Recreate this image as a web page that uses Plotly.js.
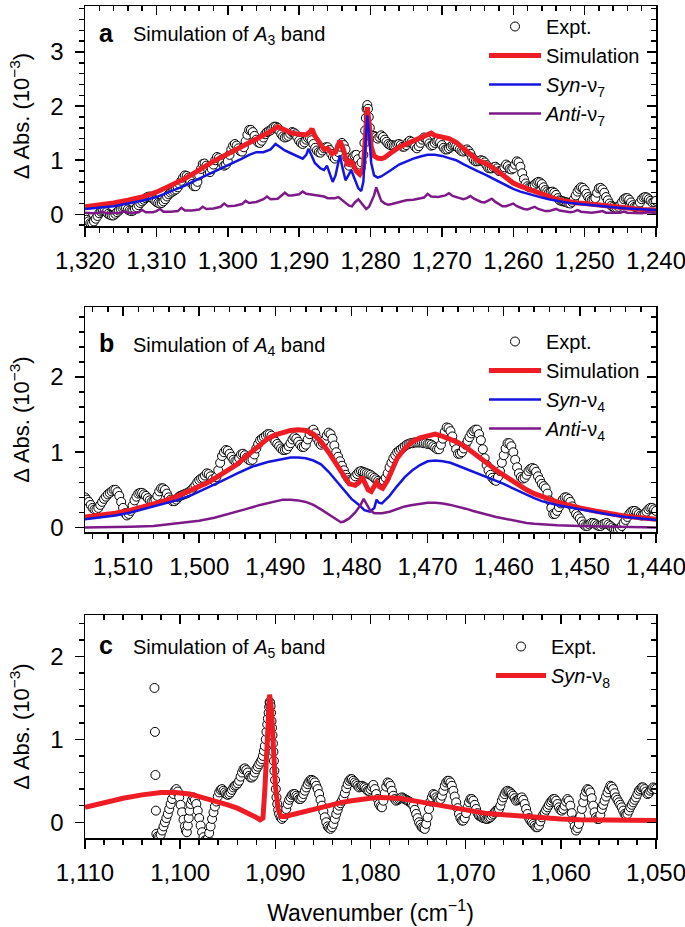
<!DOCTYPE html>
<html>
<head>
<meta charset="utf-8">
<script src="https://cdn.plot.ly/plotly-3.0.1.min.js"></script>
<style>
  body { margin: 0; background: #fff; }
  #plot { width: 685px; height: 927px; }
</style>
</head>
<body>
<div id="plot"></div>
<script>
// ---- panel a : A3 band  [wavenumber, dAbs (1e-3)] ----
const exptA = [
  [1320,-0.05],[1319.75,-0.10],[1319.5,-0.13],[1319.25,-0.16],[1319,-0.16],[1318.75,-0.13],[1318.5,-0.08],[1318.25,-0.03],
  [1318,0.02],[1317.75,0.05],[1317.5,0.06],[1317.25,0.06],[1317,0.04],[1316.75,0.01],[1316.5,-0.01],[1316.25,-0.02],
  [1316,-0.02],[1315.75,0.01],[1315.5,0.04],[1315.25,0.07],[1315,0.10],[1314.75,0.12],[1314.5,0.13],[1314.25,0.12],
  [1314,0.09],[1313.75,0.07],[1313.5,0.06],[1313.25,0.07],[1313,0.10],[1312.75,0.13],[1312.5,0.17],[1312.25,0.21],
  [1312,0.24],[1311.75,0.27],[1311.5,0.30],[1311.25,0.32],[1311,0.33],[1310.75,0.32],[1310.5,0.29],[1310.25,0.26],
  [1310,0.23],[1309.75,0.21],[1309.5,0.20],[1309.25,0.21],[1309,0.24],[1308.75,0.28],[1308.5,0.33],[1308.25,0.37],
  [1308,0.40],[1307.75,0.42],[1307.5,0.44],[1307.25,0.46],[1307,0.50],[1306.75,0.56],[1306.5,0.62],[1306.25,0.68],
  [1306,0.72],[1305.75,0.71],[1305.5,0.68],[1305.25,0.62],[1305,0.56],[1304.75,0.52],[1304.5,0.52],[1304.25,0.60],
  [1304,0.72],[1303.75,0.84],[1303.5,0.93],[1303.25,0.94],[1303,0.90],[1302.75,0.83],[1302.5,0.78],[1302.25,0.84],
  [1302,0.92],[1301.75,1.00],[1301.5,1.06],[1301.25,1.04],[1301,1.00],[1300.75,0.94],[1300.5,0.90],[1300.25,0.92],
  [1300,0.98],[1299.75,1.10],[1299.5,1.20],[1299.25,1.27],[1299,1.30],[1298.75,1.27],[1298.5,1.22],[1298.25,1.17],
  [1298,1.16],[1297.75,1.24],[1297.5,1.35],[1297.25,1.47],[1297,1.56],[1296.75,1.56],[1296.5,1.52],[1296.25,1.45],
  [1296,1.38],[1295.75,1.33],[1295.5,1.32],[1295.25,1.36],[1295,1.42],[1294.75,1.48],[1294.5,1.52],[1294.25,1.54],
  [1294,1.55],[1293.75,1.59],[1293.5,1.62],[1293.25,1.62],[1293,1.60],[1292.75,1.54],[1292.5,1.48],[1292.25,1.44],
  [1292,1.42],[1291.75,1.43],[1291.5,1.45],[1291.25,1.49],[1291,1.52],[1290.75,1.51],[1290.5,1.48],[1290.25,1.42],
  [1290,1.36],[1289.75,1.32],[1289.5,1.30],[1289.25,1.33],[1289,1.38],[1288.75,1.41],[1288.5,1.42],[1288.25,1.37],
  [1288,1.30],[1287.75,1.23],[1287.5,1.18],[1287.25,1.15],[1287,1.14],[1286.75,1.18],[1286.5,1.22],[1286.25,1.24],
  [1286,1.24],[1285.75,1.19],[1285.5,1.12],[1285.25,1.06],[1285,1.03],[1284.75,1.07],[1284.5,1.15],[1284.25,1.25],
  [1284,1.32],[1283.75,1.28],[1283.5,1.20],[1283.25,1.04],[1283,0.90],[1282.75,0.96],[1282.5,1.05],[1282.25,1.09],
  [1282,1.10],[1281.75,1.02],[1281.5,0.92],[1281.25,0.96],[1281,1.10],[1280.85,1.32],[1280.75,1.55],[1280.65,1.78],
  [1280.55,1.95],[1280.45,2.02],[1280.35,1.95],[1280.25,1.80],[1280.1,1.60],[1280,1.45],[1279.75,1.44],[1279.5,1.45],
  [1279.25,1.43],[1279,1.40],[1278.75,1.43],[1278.5,1.46],[1278.25,1.43],[1278,1.38],[1277.75,1.34],[1277.5,1.30],
  [1277.25,1.28],[1277,1.28],[1276.75,1.27],[1276.5,1.27],[1276.25,1.29],[1276,1.30],[1275.75,1.28],[1275.5,1.25],
  [1275.25,1.25],[1275,1.28],[1274.75,1.33],[1274.5,1.36],[1274.25,1.34],[1274,1.30],[1273.75,1.25],[1273.5,1.22],
  [1273.25,1.26],[1273,1.32],[1272.75,1.38],[1272.5,1.42],[1272.25,1.40],[1272,1.36],[1271.75,1.31],[1271.5,1.27],
  [1271.25,1.28],[1271,1.32],[1270.75,1.35],[1270.5,1.36],[1270.25,1.33],[1270,1.28],[1269.75,1.23],[1269.5,1.20],
  [1269.25,1.20],[1269,1.22],[1268.75,1.25],[1268.5,1.27],[1268.25,1.27],[1268,1.26],[1267.75,1.23],[1267.5,1.20],
  [1267.25,1.17],[1267,1.16],[1266.75,1.18],[1266.5,1.20],[1266.25,1.17],[1266,1.12],[1265.75,1.05],[1265.5,1.00],
  [1265.25,0.98],[1265,0.98],[1264.75,0.99],[1264.5,1.00],[1264.25,0.99],[1264,0.96],[1263.75,0.91],[1263.5,0.86],
  [1263.25,0.85],[1263,0.85],[1262.75,0.87],[1262.5,0.88],[1262.25,0.85],[1262,0.80],[1261.75,0.80],[1261.5,0.82],
  [1261.25,0.87],[1261,0.92],[1260.75,0.89],[1260.5,0.84],[1260.25,0.83],[1260,0.85],[1259.75,0.92],[1259.5,0.98],
  [1259.25,0.96],[1259,0.88],[1258.75,0.76],[1258.5,0.65],[1258.25,0.57],[1258,0.52],[1257.75,0.50],[1257.5,0.50],
  [1257.25,0.52],[1257,0.55],[1256.75,0.58],[1256.5,0.60],[1256.25,0.59],[1256,0.56],[1255.75,0.50],[1255.5,0.45],
  [1255.25,0.42],[1255,0.40],[1254.75,0.41],[1254.5,0.42],[1254.25,0.40],[1254,0.36],[1253.75,0.30],[1253.5,0.26],
  [1253.25,0.25],[1253,0.24],[1252.75,0.23],[1252.5,0.22],[1252.25,0.21],[1252,0.20],[1251.75,0.23],[1251.5,0.28],
  [1251.25,0.35],[1251,0.42],[1250.75,0.47],[1250.5,0.50],[1250.25,0.49],[1250,0.45],[1249.75,0.38],[1249.5,0.32],
  [1249.25,0.28],[1249,0.26],[1248.75,0.27],[1248.5,0.30],[1248.25,0.40],[1248,0.48],[1247.75,0.49],[1247.5,0.46],
  [1247.25,0.40],[1247,0.32],[1246.75,0.26],[1246.5,0.20],[1246.25,0.16],[1246,0.14],[1245.75,0.12],[1245.5,0.12],
  [1245.25,0.14],[1245,0.18],[1244.75,0.23],[1244.5,0.28],[1244.25,0.30],[1244,0.30],[1243.75,0.27],[1243.5,0.22],
  [1243.25,0.17],[1243,0.14],[1242.75,0.14],[1242.5,0.16],[1242.25,0.22],[1242,0.28],[1241.75,0.31],[1241.5,0.32],
  [1241.25,0.31],[1241,0.28],[1240.75,0.25],[1240.5,0.22],[1240.25,0.23],[1240,0.25]
];
const simA = [
  [1320,0.14],[1318,0.17],[1316,0.21],[1314,0.26],[1312,0.32],[1310,0.41],[1308.5,0.50],[1307,0.60],[1306,0.66],[1305,0.74],
  [1304,0.83],[1303,0.90],[1302,0.98],[1301,1.05],[1300,1.10],[1299,1.17],[1298,1.25],[1297,1.33],[1296,1.40],[1295,1.47],
  [1294,1.53],[1293,1.62],[1292,1.55],[1291,1.50],[1290,1.48],[1289,1.47],[1288.5,1.52],[1288.2,1.58],[1287.8,1.45],[1287,1.27],
  [1286.5,1.20],[1286,1.22],[1285.4,1.12],[1284.9,1.15],[1284.3,1.36],[1283.8,1.20],[1283.2,0.90],[1282.8,0.98],[1282.5,0.95],[1282,0.80],
  [1281.5,0.74],[1281,0.85],[1280.7,1.50],[1280.45,1.98],[1280.2,1.70],[1279.9,1.25],[1279.5,1.08],[1279,1.04],[1278.5,1.03],[1278,1.05],
  [1277,1.15],[1276,1.24],[1275,1.30],[1274,1.36],[1273,1.42],[1272,1.48],[1271.5,1.50],[1271,1.46],[1270,1.42],[1269,1.40],
  [1268,1.33],[1267,1.22],[1266,1.12],[1265,1.00],[1264,0.95],[1263,0.88],[1262,0.78],[1261,0.67],[1260,0.58],[1259,0.52],
  [1258,0.47],[1257,0.42],[1256,0.37],[1255,0.32],[1254,0.28],[1253,0.25],[1252,0.22],[1251,0.21],[1250,0.20],[1248,0.17],
  [1246,0.14],[1244,0.11],[1242,0.09],[1240,0.08]
];
const synA = [
  [1320,0.10],[1318,0.12],[1316,0.15],[1314,0.20],[1312,0.25],[1310,0.32],[1308,0.42],[1306,0.53],[1304,0.66],[1302,0.78],
  [1300,0.90],[1298,1.03],[1297,1.10],[1296,1.15],[1295,1.15],[1294.5,1.17],[1294,1.20],[1293.3,1.30],[1292.5,1.22],[1292,1.18],
  [1291,1.12],[1290,1.06],[1289.5,1.03],[1289,1.10],[1288.7,1.21],[1288.3,1.10],[1287.8,0.95],[1287,0.85],[1286.5,0.82],[1286.1,0.90],
  [1285.7,0.75],[1285.3,0.60],[1284.9,0.72],[1284.3,1.09],[1283.9,0.85],[1283.5,0.63],[1283.1,0.72],[1282.7,0.82],[1282.3,0.68],[1281.7,0.48],
  [1281.3,0.43],[1281,0.60],[1280.7,1.30],[1280.45,1.83],[1280.2,1.50],[1279.9,0.95],[1279.5,0.72],[1279,0.68],[1278.5,0.70],[1278,0.74],
  [1277,0.83],[1276,0.92],[1275,0.98],[1274,1.03],[1273,1.07],[1272,1.10],[1271,1.10],[1270,1.08],[1269,1.04],[1268,1.00],
  [1267,0.93],[1266,0.86],[1265,0.80],[1264,0.74],[1263,0.67],[1262,0.60],[1261,0.53],[1260,0.47],[1259,0.42],[1258,0.38],
  [1257,0.34],[1256,0.31],[1255,0.28],[1254,0.25],[1253,0.23],[1252,0.21],[1250,0.18],[1248,0.15],[1246,0.13],[1244,0.11],
  [1242,0.09],[1240,0.08]
];
const antiA = [
  [1320,0.03],[1319,0.02],[1318,0.03],[1317.5,0.05],[1317,0.02],[1316,0.02],[1315,0.03],[1314.5,0.06],[1314,0.03],[1313,0.03],
  [1312.5,0.04],[1312,0.08],[1311.5,0.04],[1310.5,0.04],[1310,0.06],[1309.5,0.10],[1309,0.05],[1308,0.05],[1307,0.06],[1306.5,0.12],
  [1306,0.07],[1305,0.07],[1304,0.09],[1303.5,0.14],[1303,0.10],[1302,0.11],[1301,0.14],[1300.5,0.20],[1300,0.15],[1299,0.16],
  [1298,0.19],[1297.5,0.25],[1297,0.21],[1296,0.23],[1295,0.28],[1294.5,0.33],[1294,0.28],[1293,0.29],[1292.5,0.34],[1292,0.40],
  [1291.5,0.35],[1291,0.35],[1290,0.37],[1289.5,0.42],[1289,0.38],[1288,0.36],[1287,0.34],[1286.5,0.33],[1286,0.30],[1285,0.30],
  [1284.5,0.32],[1284,0.27],[1283.5,0.22],[1283,0.16],[1282.6,0.15],[1282.2,0.22],[1281.7,0.28],[1281.2,0.20],[1280.6,0.10],[1280.2,0.14],
  [1279.5,0.35],[1279.2,0.50],[1278.9,0.38],[1278.5,0.25],[1278,0.20],[1277.5,0.18],[1277,0.19],[1276,0.22],[1275,0.26],[1274,0.27],
  [1273,0.30],[1272.5,0.31],[1272,0.38],[1271.5,0.33],[1270.5,0.32],[1270,0.33],[1269.5,0.35],[1269,0.39],[1268.5,0.34],[1267.5,0.30],
  [1267,0.28],[1266.5,0.30],[1266,0.34],[1265.5,0.29],[1264.5,0.23],[1264,0.22],[1263.5,0.25],[1263,0.29],[1262.5,0.23],[1261.5,0.15],
  [1261,0.15],[1260.5,0.17],[1260,0.20],[1259.5,0.15],[1258.5,0.10],[1258,0.09],[1257.5,0.11],[1257,0.14],[1256.5,0.10],[1255.5,0.06],
  [1255,0.06],[1254.5,0.08],[1254,0.10],[1253.5,0.07],[1252,0.04],[1251.5,0.05],[1251,0.08],[1250.5,0.05],[1249,0.03],[1248,0.05],
  [1247.5,0.06],[1247,0.03],[1245,0.03],[1244.5,0.05],[1244,0.03],[1242,0.02],[1241,0.04],[1240,0.02]
];

// ---- panel b : A4 band ----
const exptB = [
  [1515,0.40],[1514.75,0.37],[1514.5,0.34],[1514.25,0.30],[1514,0.26],[1513.75,0.24],[1513.5,0.24],[1513.25,0.26],
  [1513,0.30],[1512.75,0.34],[1512.5,0.38],[1512.25,0.41],[1512,0.44],[1511.75,0.46],[1511.5,0.48],[1511.25,0.50],
  [1511,0.50],[1510.75,0.47],[1510.5,0.42],[1510.25,0.34],[1510,0.26],[1509.75,0.19],[1509.5,0.16],[1509.25,0.18],
  [1509,0.22],[1508.75,0.29],[1508.5,0.36],[1508.25,0.41],[1508,0.45],[1507.75,0.46],[1507.5,0.46],[1507.25,0.44],
  [1507,0.42],[1506.75,0.39],[1506.5,0.36],[1506.25,0.34],[1506,0.34],[1505.75,0.37],[1505.5,0.42],[1505.25,0.48],
  [1505,0.52],[1504.75,0.52],[1504.5,0.50],[1504.25,0.45],[1504,0.40],[1503.75,0.37],[1503.5,0.35],[1503.25,0.35],
  [1503,0.37],[1502.75,0.40],[1502.5,0.42],[1502.25,0.43],[1502,0.44],[1501.75,0.45],[1501.5,0.46],[1501.25,0.48],
  [1501,0.50],[1500.75,0.53],[1500.5,0.56],[1500.25,0.60],[1500,0.63],[1499.75,0.65],[1499.5,0.66],[1499.25,0.69],
  [1499,0.72],[1498.75,0.71],[1498.5,0.68],[1498.25,0.64],[1498,0.62],[1497.75,0.67],[1497.5,0.76],[1497.25,0.86],
  [1497,0.95],[1496.75,1.00],[1496.5,1.03],[1496.25,1.02],[1496,0.98],[1495.75,0.94],[1495.5,0.90],[1495.25,0.88],
  [1495,0.88],[1494.75,0.92],[1494.5,0.97],[1494.25,0.98],[1494,0.96],[1493.75,0.93],[1493.5,0.90],[1493.25,0.89],
  [1493,0.90],[1492.75,0.97],[1492.5,1.05],[1492.25,1.11],[1492,1.16],[1491.75,1.18],[1491.5,1.20],[1491.25,1.22],
  [1491,1.24],[1490.75,1.24],[1490.5,1.22],[1490.25,1.18],[1490,1.14],[1489.75,1.11],[1489.5,1.08],[1489.25,1.05],
  [1489,1.03],[1488.75,1.03],[1488.5,1.04],[1488.25,1.08],[1488,1.12],[1487.75,1.17],[1487.5,1.20],[1487.25,1.18],
  [1487,1.14],[1486.75,1.10],[1486.5,1.07],[1486.25,1.07],[1486,1.10],[1485.75,1.17],[1485.5,1.24],[1485.25,1.28],
  [1485,1.30],[1484.75,1.25],[1484.5,1.18],[1484.25,1.13],[1484,1.10],[1483.75,1.12],[1483.5,1.16],[1483.25,1.22],
  [1483,1.26],[1482.75,1.24],[1482.5,1.18],[1482.25,1.09],[1482,1.00],[1481.75,0.94],[1481.5,0.88],[1481.25,0.82],
  [1481,0.76],[1480.75,0.70],[1480.5,0.66],[1480.25,0.63],[1480,0.62],[1479.75,0.64],[1479.5,0.68],[1479.25,0.71],
  [1479,0.74],[1478.75,0.75],[1478.5,0.74],[1478.25,0.73],[1478,0.72],[1477.75,0.71],[1477.5,0.70],[1477.25,0.68],
  [1477,0.66],[1476.75,0.64],[1476.5,0.62],[1476.25,0.60],[1476,0.60],[1475.75,0.62],[1475.5,0.66],[1475.25,0.72],
  [1475,0.80],[1474.75,0.86],[1474.5,0.92],[1474.25,0.96],[1474,1.00],[1473.75,1.02],[1473.5,1.04],[1473.25,1.06],
  [1473,1.08],[1472.75,1.10],[1472.5,1.11],[1472.25,1.12],[1472,1.12],[1471.75,1.13],[1471.5,1.13],[1471.25,1.13],
  [1471,1.13],[1470.75,1.13],[1470.5,1.12],[1470.25,1.12],[1470,1.11],[1469.75,1.11],[1469.5,1.10],[1469.25,1.08],
  [1469,1.06],[1468.75,1.04],[1468.5,1.04],[1468.25,1.10],[1468,1.18],[1467.75,1.27],[1467.5,1.33],[1467.25,1.32],
  [1467,1.28],[1466.75,1.21],[1466.5,1.12],[1466.25,1.04],[1466,0.98],[1465.75,0.98],[1465.5,1.00],[1465.25,1.05],
  [1465,1.10],[1464.75,1.15],[1464.5,1.20],[1464.25,1.25],[1464,1.28],[1463.75,1.30],[1463.5,1.30],[1463.25,1.24],
  [1463,1.16],[1462.75,1.04],[1462.5,0.92],[1462.25,0.83],[1462,0.76],[1461.75,0.70],[1461.5,0.66],[1461.25,0.63],
  [1461,0.62],[1460.75,0.67],[1460.5,0.75],[1460.25,0.86],[1460,0.96],[1459.75,1.05],[1459.5,1.12],[1459.25,1.12],
  [1459,1.08],[1458.75,1.00],[1458.5,0.90],[1458.25,0.80],[1458,0.72],[1457.75,0.67],[1457.5,0.65],[1457.25,0.66],
  [1457,0.70],[1456.75,0.75],[1456.5,0.78],[1456.25,0.79],[1456,0.78],[1455.75,0.74],[1455.5,0.68],[1455.25,0.63],
  [1455,0.58],[1454.75,0.55],[1454.5,0.52],[1454.25,0.45],[1454,0.36],[1453.75,0.26],[1453.5,0.18],[1453.25,0.18],
  [1453,0.22],[1452.75,0.27],[1452.5,0.32],[1452.25,0.37],[1452,0.40],[1451.75,0.40],[1451.5,0.38],[1451.25,0.34],
  [1451,0.28],[1450.75,0.23],[1450.5,0.18],[1450.25,0.15],[1450,0.12],[1449.75,0.08],[1449.5,0.04],[1449.25,0.02],
  [1449,0.02],[1448.75,0.04],[1448.5,0.06],[1448.25,0.06],[1448,0.05],[1447.75,0.03],[1447.5,0.02],[1447.25,0.02],
  [1447,0.04],[1446.75,0.05],[1446.5,0.06],[1446.25,0.04],[1446,0.02],[1445.75,0.00],[1445.5,-0.02],[1445.25,-0.03],
  [1445,-0.03],[1444.75,-0.01],[1444.5,0.02],[1444.25,0.06],[1444,0.10],[1443.75,0.14],[1443.5,0.18],[1443.25,0.21],
  [1443,0.22],[1442.75,0.22],[1442.5,0.20],[1442.25,0.18],[1442,0.16],[1441.75,0.16],[1441.5,0.18],[1441.25,0.21],
  [1441,0.24],[1440.75,0.26],[1440.5,0.26],[1440.25,0.24],[1440,0.22]
];
const simB = [
  [1515,0.14],[1513,0.16],[1511,0.19],[1509,0.23],[1507,0.28],[1505,0.34],[1503,0.41],[1501,0.50],[1500,0.54],[1499,0.59],
  [1498,0.65],[1497,0.71],[1496,0.78],[1495,0.84],[1494,0.93],[1493,1.02],[1492,1.10],[1491,1.18],[1490,1.23],[1489,1.26],
  [1488,1.29],[1487,1.30],[1486,1.29],[1485,1.24],[1484,1.14],[1483,1.00],[1482,0.85],[1481,0.70],[1480.3,0.58],[1479.5,0.56],
  [1479,0.60],[1478.6,0.67],[1478.2,0.58],[1477.8,0.50],[1477.4,0.48],[1477,0.56],[1476.7,0.60],[1476.3,0.54],[1475.9,0.52],[1475.3,0.62],
  [1474.5,0.82],[1474,0.92],[1473,1.05],[1472,1.14],[1471,1.19],[1470,1.22],[1469,1.24],[1468,1.21],[1467,1.17],[1466,1.13],
  [1465,1.07],[1464,1.00],[1463,0.92],[1462,0.84],[1461,0.76],[1460,0.69],[1459,0.62],[1458,0.55],[1457,0.50],[1456,0.45],
  [1455,0.41],[1454,0.37],[1453,0.34],[1452,0.31],[1451,0.28],[1450,0.26],[1448,0.22],[1446,0.18],[1444,0.15],[1442,0.13],
  [1440,0.11]
];
const synB = [
  [1515,0.11],[1513,0.13],[1511,0.16],[1509,0.20],[1507,0.25],[1505,0.30],[1503,0.36],[1501,0.43],[1499,0.52],[1497,0.62],
  [1495,0.72],[1493,0.81],[1491,0.87],[1489,0.91],[1488,0.93],[1487,0.93],[1486,0.92],[1485,0.89],[1484,0.84],[1483,0.74],
  [1482,0.62],[1481,0.49],[1480,0.38],[1479,0.30],[1478.3,0.23],[1477.6,0.21],[1477,0.26],[1476.7,0.37],[1476.4,0.33],[1476,0.32],
  [1475,0.42],[1474,0.55],[1473,0.67],[1472,0.76],[1471,0.83],[1470,0.88],[1469,0.89],[1468,0.88],[1467,0.86],[1466,0.82],
  [1465,0.78],[1464,0.75],[1463,0.71],[1462,0.67],[1461,0.63],[1460,0.58],[1459,0.53],[1458,0.48],[1457,0.44],[1456,0.39],
  [1455,0.35],[1454,0.32],[1453,0.30],[1452,0.28],[1450,0.24],[1448,0.20],[1446,0.17],[1444,0.14],[1442,0.12],[1440,0.10]
];
const antiB = [
  [1515,0.00],[1512,0.00],[1509,0.01],[1506,0.02],[1504,0.04],[1502,0.06],[1500,0.09],[1498,0.13],[1496,0.18],[1494,0.24],
  [1492,0.30],[1490,0.35],[1489,0.37],[1488,0.37],[1487,0.36],[1486,0.34],[1485,0.30],[1484,0.24],[1483,0.17],[1482,0.11],
  [1481.4,0.07],[1481,0.08],[1480.3,0.12],[1479.5,0.20],[1478.8,0.30],[1478.4,0.38],[1478,0.30],[1477.5,0.22],[1477,0.19],[1476,0.19],
  [1475,0.21],[1474,0.25],[1473,0.28],[1472,0.30],[1471,0.32],[1470,0.33],[1469,0.33],[1468,0.32],[1467,0.30],[1466,0.28],
  [1465,0.25],[1464,0.22],[1463,0.19],[1462,0.16],[1461,0.14],[1460,0.12],[1459,0.10],[1458,0.08],[1457,0.06],[1456,0.05],
  [1455,0.04],[1453,0.03],[1450,0.02],[1446,0.01],[1440,0.00]
];

// ---- panel c : A5 band ----
const exptC = [
  [1102.7,1.62],[1102.65,1.09],[1102.6,0.57],[1102.55,0.14],[1102.5,-0.14],[1102.35,-0.17],[1102.2,-0.18],[1102.05,-0.15],
  [1101.9,-0.10],[1101.75,-0.05],[1101.6,0.00],[1101.45,0.05],[1101.3,0.10],[1101.15,0.16],[1101,0.22],[1100.85,0.28],
  [1100.7,0.34],[1100.55,0.38],[1100.4,0.40],[1100.25,0.37],[1100.1,0.30],[1099.95,0.21],[1099.8,0.12],[1099.65,0.03],
  [1099.5,-0.05],[1099.4,-0.10],[1099.3,-0.12],[1099.2,-0.04],[1099.1,0.05],[1099,0.14],[1098.9,0.22],[1098.75,0.27],
  [1098.6,0.30],[1098.45,0.27],[1098.3,0.22],[1098.15,0.14],[1098,0.05],[1097.85,-0.04],[1097.7,-0.12],[1097.55,-0.18],
  [1097.4,-0.22],[1097.25,-0.22],[1097.1,-0.20],[1096.95,-0.13],[1096.8,-0.05],[1096.65,0.04],[1096.5,0.12],[1096.35,0.19],
  [1096.2,0.25],[1096.05,0.31],[1095.9,0.36],[1095.75,0.39],[1095.6,0.40],[1095.45,0.38],[1095.3,0.36],[1095.15,0.34],
  [1095,0.33],[1094.85,0.34],[1094.7,0.36],[1094.55,0.39],[1094.4,0.42],[1094.25,0.44],[1094.1,0.45],[1093.95,0.47],
  [1093.8,0.50],[1093.65,0.55],[1093.5,0.60],[1093.35,0.64],[1093.2,0.65],[1093.05,0.63],[1092.9,0.60],[1092.75,0.56],
  [1092.6,0.54],[1092.45,0.54],[1092.3,0.56],[1092.15,0.60],[1092,0.64],[1091.85,0.67],[1091.7,0.70],[1091.55,0.73],
  [1091.4,0.76],[1091.3,0.80],[1091.2,0.86],[1091.1,0.92],[1091,1.00],[1090.93,1.09],[1090.85,1.18],[1090.78,1.25],
  [1090.7,1.32],[1090.65,1.39],[1090.6,1.45],[1090.55,1.44],[1090.5,1.40],[1090.45,1.32],[1090.4,1.22],[1090.35,1.14],
  [1090.3,1.05],[1090.25,0.95],[1090.2,0.85],[1090.15,0.74],[1090.1,0.62],[1090.03,0.51],[1089.95,0.40],[1089.88,0.30],
  [1089.8,0.22],[1089.7,0.15],[1089.6,0.10],[1089.45,0.06],[1089.3,0.04],[1089.15,0.06],[1089,0.10],[1088.85,0.16],
  [1088.7,0.22],[1088.55,0.27],[1088.4,0.30],[1088.25,0.33],[1088.1,0.34],[1087.95,0.34],[1087.8,0.32],[1087.65,0.30],
  [1087.5,0.28],[1087.35,0.28],[1087.2,0.30],[1087.05,0.34],[1086.9,0.38],[1086.75,0.42],[1086.6,0.46],[1086.45,0.49],
  [1086.3,0.51],[1086.15,0.51],[1086,0.50],[1085.85,0.48],[1085.7,0.44],[1085.55,0.40],[1085.4,0.34],[1085.25,0.27],
  [1085.1,0.20],[1084.95,0.13],[1084.8,0.06],[1084.65,0.00],[1084.5,-0.05],[1084.35,-0.07],[1084.2,-0.08],[1084.05,-0.06],
  [1083.9,-0.02],[1083.75,0.04],[1083.6,0.10],[1083.45,0.15],[1083.3,0.20],[1083.15,0.23],[1083,0.26],[1082.85,0.30],
  [1082.7,0.35],[1082.55,0.41],[1082.4,0.46],[1082.25,0.50],[1082.1,0.52],[1081.95,0.52],[1081.8,0.50],[1081.65,0.48],
  [1081.5,0.46],[1081.35,0.44],[1081.2,0.42],[1081.05,0.43],[1080.9,0.44],[1080.75,0.43],[1080.6,0.42],[1080.45,0.40],
  [1080.3,0.38],[1080.15,0.38],[1080,0.40],[1079.85,0.43],[1079.7,0.45],[1079.55,0.40],[1079.4,0.34],[1079.25,0.28],
  [1079.1,0.22],[1078.95,0.19],[1078.8,0.18],[1078.65,0.26],[1078.5,0.35],[1078.35,0.43],[1078.2,0.48],[1078.05,0.47],
  [1077.9,0.44],[1077.75,0.38],[1077.6,0.32],[1077.45,0.28],[1077.3,0.26],[1077.15,0.27],[1077,0.28],[1076.85,0.29],
  [1076.7,0.30],[1076.55,0.29],[1076.4,0.28],[1076.25,0.27],[1076.1,0.26],[1075.95,0.25],[1075.8,0.24],[1075.65,0.22],
  [1075.5,0.20],[1075.35,0.15],[1075.2,0.10],[1075.05,0.05],[1074.9,0.00],[1074.75,-0.03],[1074.6,-0.06],[1074.45,-0.07],
  [1074.3,-0.08],[1074.15,-0.02],[1074,0.06],[1073.85,0.16],[1073.7,0.25],[1073.55,0.30],[1073.4,0.34],[1073.25,0.33],
  [1073.1,0.30],[1072.95,0.28],[1072.8,0.26],[1072.65,0.28],[1072.5,0.32],[1072.35,0.38],[1072.2,0.44],[1072.05,0.48],
  [1071.9,0.50],[1071.75,0.50],[1071.6,0.48],[1071.45,0.44],[1071.3,0.38],[1071.15,0.31],[1071,0.24],[1070.85,0.17],
  [1070.7,0.10],[1070.55,0.05],[1070.4,0.02],[1070.25,0.02],[1070.1,0.05],[1069.95,0.11],[1069.8,0.18],[1069.65,0.24],
  [1069.5,0.28],[1069.35,0.28],[1069.2,0.26],[1069.05,0.21],[1068.9,0.16],[1068.75,0.11],[1068.6,0.08],[1068.45,0.07],
  [1068.3,0.06],[1068.15,0.05],[1068,0.05],[1067.85,0.04],[1067.7,0.04],[1067.55,0.05],[1067.4,0.06],[1067.25,0.08],
  [1067.1,0.10],[1066.95,0.12],[1066.8,0.14],[1066.65,0.15],[1066.5,0.16],[1066.35,0.20],[1066.2,0.26],[1066.05,0.30],
  [1065.9,0.34],[1065.75,0.37],[1065.6,0.38],[1065.45,0.37],[1065.3,0.36],[1065.15,0.34],[1065,0.32],[1064.85,0.29],
  [1064.7,0.26],[1064.55,0.27],[1064.4,0.28],[1064.25,0.29],[1064.1,0.30],[1063.95,0.27],[1063.8,0.22],[1063.65,0.16],
  [1063.5,0.10],[1063.35,0.05],[1063.2,0.02],[1063.05,0.00],[1062.9,-0.02],[1062.75,-0.04],[1062.6,-0.06],[1062.45,-0.06],
  [1062.3,-0.04],[1062.15,0.01],[1062,0.06],[1061.85,0.09],[1061.7,0.12],[1061.55,0.15],[1061.4,0.18],[1061.25,0.21],
  [1061.1,0.24],[1060.95,0.26],[1060.8,0.28],[1060.65,0.28],[1060.5,0.26],[1060.35,0.22],[1060.2,0.18],[1060.05,0.15],
  [1059.9,0.14],[1059.75,0.16],[1059.6,0.20],[1059.45,0.25],[1059.3,0.28],[1059.15,0.26],[1059,0.20],[1058.85,0.11],
  [1058.7,0.02],[1058.55,-0.05],[1058.4,-0.10],[1058.25,-0.07],[1058.1,-0.02],[1057.95,0.07],[1057.8,0.16],[1057.65,0.24],
  [1057.5,0.32],[1057.35,0.37],[1057.2,0.40],[1057.05,0.39],[1056.9,0.36],[1056.75,0.29],[1056.6,0.20],[1056.45,0.12],
  [1056.3,0.06],[1056.15,0.04],[1056,0.04],[1055.85,0.09],[1055.7,0.16],[1055.55,0.21],[1055.4,0.26],[1055.25,0.31],
  [1055.1,0.36],[1054.95,0.40],[1054.8,0.44],[1054.65,0.43],[1054.5,0.40],[1054.35,0.35],[1054.2,0.30],[1054.05,0.27],
  [1053.9,0.24],[1053.75,0.21],[1053.6,0.18],[1053.45,0.14],[1053.3,0.10],[1053.15,0.09],[1053,0.10],[1052.85,0.14],
  [1052.7,0.18],[1052.55,0.21],[1052.4,0.24],[1052.25,0.27],[1052.1,0.30],[1051.95,0.34],[1051.8,0.38],[1051.65,0.40],
  [1051.5,0.42],[1051.35,0.42],[1051.2,0.40],[1051.05,0.37],[1050.9,0.34],[1050.75,0.35],[1050.6,0.38],[1050.45,0.40],
  [1050.3,0.42],[1050.15,0.41],[1050,0.40]
];
const synC = [
  [1110,0.18],[1108,0.24],[1106,0.29],[1104,0.33],[1102,0.36],[1100.5,0.36],[1099,0.34],[1098,0.31],[1097,0.28],[1096,0.25],
  [1095,0.21],[1094,0.17],[1093,0.12],[1092.2,0.07],[1091.6,0.03],[1091.3,0.05],[1091.1,0.40],[1090.9,0.95],[1090.7,1.45],[1090.6,1.54],
  [1090.4,1.35],[1090.2,0.90],[1090,0.45],[1089.7,0.15],[1089.4,0.07],[1089,0.07],[1088,0.10],[1087,0.13],[1086,0.16],[1085,0.19],
  [1084,0.22],[1083,0.24],[1082,0.26],[1081,0.28],[1080,0.29],[1079,0.30],[1078,0.30],[1077,0.29],[1076,0.27],[1075,0.25],
  [1074,0.23],[1073,0.21],[1072,0.18],[1071,0.16],[1070,0.14],[1069,0.12],[1068,0.11],[1067,0.10],[1066,0.09],[1065,0.08],
  [1064,0.07],[1062,0.05],[1060,0.04],[1058,0.03],[1055,0.03],[1052,0.02],[1050,0.02]
];

// ---- ranges / labels per panel ----
const xRanges = [[1320, 1240], [1515, 1440], [1110, 1050]];
const yRanges = [[-0.215, 3.85], [-0.06, 2.93], [-0.19, 2.5]];
const bandSubs = ['3', '4', '5'];
const modeSubs = ['7', '4', '8'];
const panelLetters = ['a', 'b', 'c'];

const FONT = '"Liberation Sans", Arial, Helvetica, sans-serif';
const RED = '#ee1c24';
const BLUE = '#1515e0';
const PURPLE = '#7d1a87';

// pixel geometry of the figure
const W = 685, H = 927;
const M = { l: 85, r: 29, t: 6, b: 89 };
const px = x => (x - M.l) / (W - M.l - M.r);
const py = y => (H - M.b - y) / (H - M.t - M.b);
const domainsPx = [[226, 6], [532, 307], [838, 615]];

const col = (arr, i) => arr.map(p => p[i]);

function exptTrace(arr, k, legend) {
  return {
    type: 'scatter', mode: 'markers', name: 'Expt.',
    x: col(arr, 0), y: col(arr, 1),
    xaxis: 'x' + k, yaxis: 'y' + k, legend,
    marker: { symbol: 'circle', size: 9, color: 'white', line: { color: 'black', width: 1 } },
    hoverinfo: 'skip'
  };
}
function lineTrace(arr, k, legend, name, color, width) {
  return {
    type: 'scatter', mode: 'lines', name,
    x: col(arr, 0), y: col(arr, 1),
    xaxis: 'x' + k, yaxis: 'y' + k, legend,
    line: { color, width },
    hoverinfo: 'skip'
  };
}

const axBase = {
  showgrid: false, zeroline: false, fixedrange: true, autorange: false,
  linecolor: 'black', linewidth: 1.5,
  tickcolor: 'black', tickwidth: 1.5, ticklen: 9,
  tickfont: { family: FONT, size: 24, color: 'black' }
};
const minorX = (dir, t0) => ({ dtick: 2, tick0: t0, ticks: dir, ticklen: 5, tickwidth: 1.5, tickcolor: 'black', showgrid: false });
const minorY = dir => ({ dtick: 0.2, tick0: 0, ticks: dir, ticklen: 5, tickwidth: 1.5, tickcolor: 'black', showgrid: false });

const layout = {
  width: W, height: H,
  margin: M,
  paper_bgcolor: 'white', plot_bgcolor: 'white',
  font: { family: FONT, color: 'black' },
  annotations: [],
  showlegend: true
};
const data = [];
const exptSets = [exptA, exptB, exptC];

for (let i = 0; i < 3; i++) {
  const k = i === 0 ? '' : String(i + 1);
  const ko = String(i + 4);
  const legendId = i === 0 ? 'legend' : 'legend' + (i + 1);
  const dom = [py(domainsPx[i][0]), py(domainsPx[i][1])];
  const xr = xRanges[i], yr = yRanges[i];

  layout['xaxis' + k] = Object.assign({}, axBase, {
    anchor: 'y' + k, domain: [0, 1], range: xr,
    ticks: 'outside', dtick: 10, tick0: xr[1], separatethousands: true,
    showline: true, mirror: true, ticklabelstandoff: 4, ticklabeloverflow: 'allow',
    minor: minorX('outside', xr[1])
  });
  layout['yaxis' + k] = Object.assign({}, axBase, {
    anchor: 'x' + k, domain: dom, range: yr,
    ticks: 'outside', dtick: 1, tick0: 0, showline: true, mirror: true,
    ticklabelstandoff: 6, minor: minorY('outside'),
    title: { text: 'Δ Abs. (10<sup>−3</sup>)', font: { family: FONT, size: 22, color: 'black' }, standoff: 14 }
  });
  // top / right frame with inward ticks
  layout['xaxis' + ko] = Object.assign({}, axBase, {
    overlaying: 'x' + k, anchor: 'y' + k, side: 'top', range: xr,
    ticks: 'inside', dtick: 10, tick0: xr[1], showticklabels: false, showline: false,
    minor: minorX('inside', xr[1])
  });
  layout['yaxis' + ko] = Object.assign({}, axBase, {
    overlaying: 'y' + k, anchor: 'x' + ko, side: 'right', range: yr,
    ticks: 'inside', dtick: 1, tick0: 0, showticklabels: false, showline: false,
    minor: minorY('inside')
  });
  data.push({ type: 'scatter', x: [], y: [], xaxis: 'x' + ko, yaxis: 'y' + ko, showlegend: false, hoverinfo: 'skip' });

  // series
  data.push(exptTrace(exptSets[i], k, legendId));
  if (i < 2) {
    const sim = i === 0 ? simA : simB;
    const syn = i === 0 ? synA : synB;
    const anti = i === 0 ? antiA : antiB;
    data.push(lineTrace(sim, k, legendId, 'Simulation', RED, 5));
    data.push(lineTrace(syn, k, legendId, '<i>Syn</i>-ν<sub>' + modeSubs[i] + '</sub>', BLUE, 2.5));
    data.push(lineTrace(anti, k, legendId, '<i>Anti</i>-ν<sub>' + modeSubs[i] + '</sub>', PURPLE, 2.5));
  } else {
    data.push(lineTrace(synC, k, legendId, '<i>Syn</i>-ν<sub>' + modeSubs[i] + '</sub>', RED, 5));
  }

  // legend box for this panel
  const legTop = [7, 322, 627][i];
  const legLeft = i === 2 ? 491 : 484;
  layout[legendId] = {
    x: px(legLeft), y: py(legTop), xanchor: 'left', yanchor: 'top',
    bgcolor: 'rgba(0,0,0,0)', borderwidth: 0,
    itemwidth: i === 2 ? 50 : 52, tracegroupgap: 0,
    font: { family: FONT, size: 20, color: 'black' }
  };

  // panel letter + title
  const ty = [33, 343, 645][i];
  layout.annotations.push({
    xref: 'paper', yref: 'paper', x: px(97), y: py(ty), xanchor: 'left', yanchor: 'middle',
    text: '<b>' + panelLetters[i] + '</b>', showarrow: false,
    font: { family: FONT, size: 25, color: 'black' }
  });
  layout.annotations.push({
    xref: 'paper', yref: 'paper', x: px(131), y: py(ty + 3), xanchor: 'left', yanchor: 'middle',
    text: 'Simulation of <i>A</i><sub>' + bandSubs[i] + '</sub> band', showarrow: false,
    font: { family: FONT, size: 20, color: 'black' }
  });
}

layout.xaxis3.title = {
  text: 'Wavenumber (cm<sup>−1</sup>)',
  font: { family: FONT, size: 23, color: 'black' }, standoff: 19
};

Plotly.newPlot('plot', data, layout, { displayModeBar: false, staticPlot: true });
</script>
</body>
</html>
